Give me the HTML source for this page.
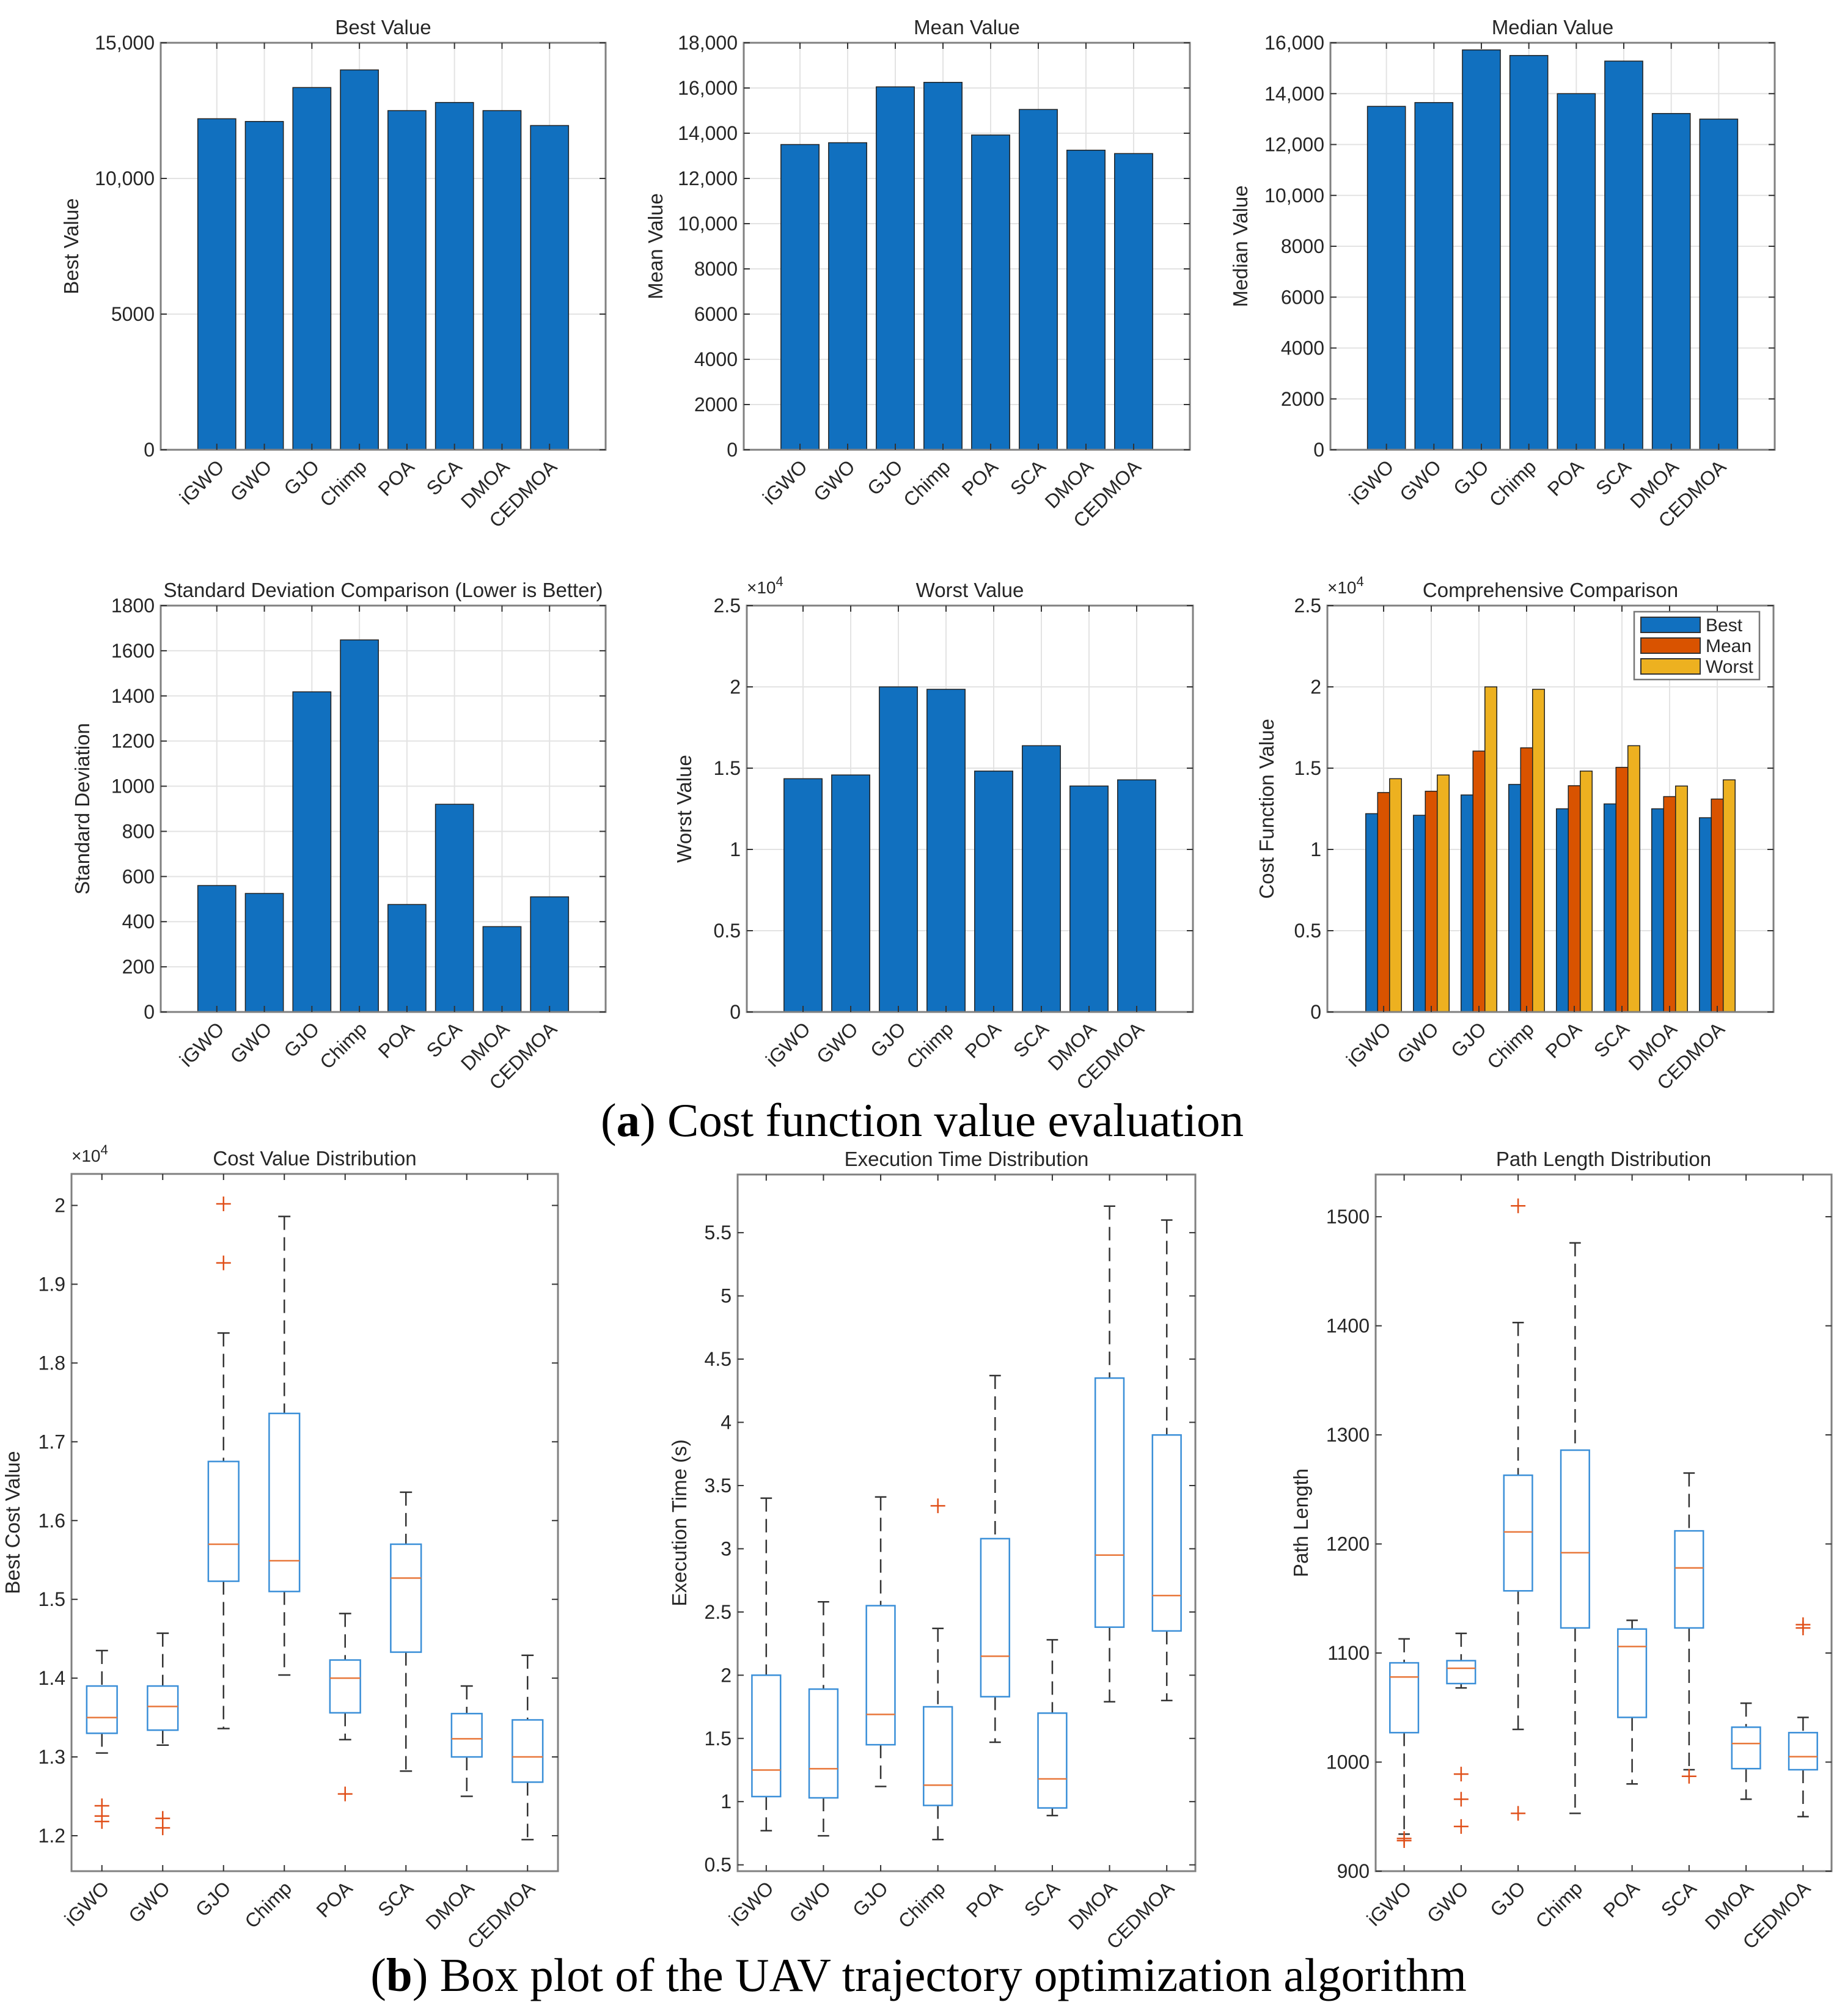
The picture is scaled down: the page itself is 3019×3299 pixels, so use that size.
<!DOCTYPE html>
<html><head><meta charset="utf-8"><style>
html,body{margin:0;padding:0;background:#fff}
svg{display:block}
text{font-family:"Liberation Sans",sans-serif;fill:#262626}
</style></head><body>
<svg id="fig" xmlns="http://www.w3.org/2000/svg" width="3019" height="3299" viewBox="0 0 3019 3299">
<text x="1509" y="1859" text-anchor="middle" style="font-family:'Liberation Serif',serif;font-size:77px;fill:#000">(<tspan font-weight="bold">a</tspan>) Cost function value evaluation</text>
<text x="1503" y="3258" text-anchor="middle" style="font-family:'Liberation Serif',serif;font-size:77px;fill:#000">(<tspan font-weight="bold">b</tspan>) Box plot of the UAV trajectory optimization algorithm</text>
</svg>
<script>
const categories = ["iGWO","GWO","GJO","Chimp","POA","SCA","DMOA","CEDMOA"];
const bestValues = [12200,12100,13350,14000,12500,12800,12500,11950];
const meanValues = [13500,13580,16050,16250,13920,15050,13250,13100];
const medianValues = [13500,13650,15720,15500,14000,15280,13220,13000];
const stdValues = [560,525,1418,1648,476,920,378,510];
const worstValues = [14350,14580,20000,19850,14820,16380,13900,14280];
const ticksBest = [0,5000,10000,15000];
const ticksMean = [0,2000,4000,6000,8000,10000,12000,14000,16000,18000];
const ticksMedian = [0,2000,4000,6000,8000,10000,12000,14000,16000];
const ticksStd = [0,200,400,600,800,1000,1200,1400,1600,1800];
const ticksE4 = [0,5000,10000,15000,20000,25000];
// box stats: [whiskerHigh, q3, median, q1, whiskerLow]
const costBox = [[1.435,1.39,1.35,1.33,1.305],[1.457,1.39,1.364,1.334,1.315],[1.838,1.675,1.57,1.523,1.336],[1.986,1.736,1.549,1.51,1.404],[1.482,1.423,1.40,1.356,1.322],[1.636,1.57,1.527,1.433,1.282],[1.39,1.355,1.323,1.30,1.25],[1.429,1.347,1.30,1.268,1.195]];
const costOutliers = [[1.238,1.225,1.218],[1.222,1.21],[2.002,1.927],[],[1.253],[],[],[]];
const timeBox = [[3.4,2.0,1.25,1.04,0.77],[2.58,1.89,1.26,1.03,0.73],[3.41,2.55,1.69,1.45,1.12],[2.37,1.75,1.13,0.97,0.70],[4.37,3.08,2.15,1.83,1.47],[2.28,1.70,1.18,0.95,0.89],[5.71,4.35,2.95,2.38,1.79],[5.60,3.90,2.63,2.35,1.80]];
const timeOutliers = [[],[],[],[3.34],[],[],[],[]];
const pathBox = [[1113,1091,1078,1027,934],[1118,1093,1086,1072,1068],[1403,1263,1211,1157,1030],[1476,1286,1192,1123,953],[1130,1122,1106,1041,980],[1265,1212,1178,1123,993],[1054,1032,1017,994,966],[1041,1027,1005,993,950]];
const pathOutliers = [[928,930],[989,966,941],[1510,953],[],[],[987],[],[1123,1126]];
const ticksCost = [1.2,1.3,1.4,1.5,1.6,1.7,1.8,1.9,2.0];
const ticksTime = [0.5,1,1.5,2,2.5,3,3.5,4,4.5,5,5.5];
const ticksPath = [900,1000,1100,1200,1300,1400,1500];

const NS="http://www.w3.org/2000/svg";
const svg=document.getElementById('fig');
function mk(tag,attrs,parent,txt){const e=document.createElementNS(NS,tag);for(const k in attrs)e.setAttribute(k,attrs[k]);if(txt!==undefined)e.textContent=txt;(parent||svg).appendChild(e);return e;}
function fmt(v){return v>=10000?v.toLocaleString('en-US'):String(v);}
const BLUE="#1170BF",ORANGE="#D95300",YELLOW="#EDB120";

function axesFrame(g,L,R,T,B,title,ylab,ylabOff,ticks,ymin,ymax,tickFmt,grid,fs,exp){
  const sy=v=>B-(v-ymin)/(ymax-ymin)*(B-T);
  const bar=grid;
  const xmin=bar?-0.18:0.5, xmax=bar?9.18:8.5;
  const sx=i=>L+((i+1)-xmin)/(xmax-xmin)*(R-L);
  if(grid){
    categories.forEach((c,i)=>{const gl=mk('line',{x1:sx(i),x2:sx(i),y1:T,y2:B,stroke:'#e3e3e3','stroke-width':2},g);});
    ticks.forEach(t=>{const gl=mk('line',{x1:L,x2:R,y1:sy(t),y2:sy(t),stroke:'#e3e3e3','stroke-width':2},g);});
  }
  return {sx,sy,xmin,xmax};
}
function axesDecor(g,L,R,T,B,title,ylab,ylabOff,ticks,sy,sx,tickFmt,fs,exp){
  const fr=mk('rect',{x:L,y:T,width:R-L,height:B-T,fill:'none',stroke:'#808080','stroke-width':3},g);
  
  ticks.forEach(t=>{
    const y=sy(t);
    mk('line',{x1:L,x2:L+10,y1:y,y2:y,stroke:'#333','stroke-width':2},g);
    mk('line',{x1:R,x2:R-10,y1:y,y2:y,stroke:'#333','stroke-width':2},g);
    const tl=mk('text',{x:L-10,y:y+11,'text-anchor':'end','font-size':fs},g,tickFmt(t));
    
  });
  categories.forEach((c,i)=>{
    const x=sx(i);
    mk('line',{x1:x,x2:x,y1:B,y2:B-10,stroke:'#333','stroke-width':2},g);
    mk('line',{x1:x,x2:x,y1:T,y2:T+10,stroke:'#333','stroke-width':2},g);
    const xl=mk('text',{x:0,y:0,'text-anchor':'end','font-size':fs,transform:`translate(${x+14},${B+30}) rotate(-45)`},g,c);
    
  });
  const tt=mk('text',{x:(L+R)/2,y:T-14,'text-anchor':'middle','font-size':fs+1},g,title);
  
  const yl=mk('text',{x:0,y:0,'text-anchor':'middle','font-size':fs+1,transform:`translate(${L+ylabOff},${(T+B)/2}) rotate(-90)`},g,ylab);
  
  if(exp){const ex=mk('text',{x:L,y:T-20,'font-size':fs-4},g,'×10');mk('tspan',{dy:-12,'font-size':fs-10},ex,'4');}
}
function barChart(name,L,R,T,B,title,ylab,ylabOff,vals,ticks,ymax,exp){
  const g=mk('g',{});  
  const a=axesFrame(g,L,R,T,B,title,ylab,ylabOff,ticks,0,ymax,null,true);
  const unit=(R-L)/(a.xmax-a.xmin);
  vals.forEach((v,i)=>{const w=0.8*unit;const r=mk('rect',{x:a.sx(i)-w/2,y:a.sy(v),width:w,height:a.sy(0)-a.sy(v),fill:BLUE,stroke:'#222','stroke-width':1.5},g);
    });
  const tf=exp?(t=>String(t/10000)):fmt;
  axesDecor(g,L,R,T,B,title,ylab,ylabOff,ticks,a.sy,a.sx,tf,32,exp);
  return {g,a,unit};
}
barChart('best-value-chart',263,991,70,736,'Best Value','Best Value',-135,bestValues,ticksBest,15000,false);
barChart('mean-value-chart',1217,1947,70,736,'Mean Value','Mean Value',-133,meanValues,ticksMean,18000,false);
barChart('median-value-chart',2177,2904,70,736,'Median Value','Median Value',-136,medianValues,ticksMedian,16000,false);
barChart('std-dev-chart',263,991,991,1656,'Standard Deviation Comparison (Lower is Better)','Standard Deviation',-117,stdValues,ticksStd,1800,false);
barChart('worst-value-chart',1222,1952,991,1656,'Worst Value','Worst Value',-91,worstValues,ticksE4,25000,true);

(function(){
  const L=2172,R=2902,T=991,B=1656;
  const g=mk('g',{});  
  const a=axesFrame(g,L,R,T,B,'','','',ticksE4,0,25000,null,true);
  const unit=(R-L)/(a.xmax-a.xmin);
  const series=[[bestValues,BLUE,'best'],[meanValues,ORANGE,'mean'],[worstValues,YELLOW,'worst']];
  const bw=unit*0.25;
  series.forEach((s,si)=>{s[0].forEach((v,i)=>{const x=a.sx(i)+(si-1)*bw-bw/2;
    const r=mk('rect',{x:x,y:a.sy(v),width:bw,height:a.sy(0)-a.sy(v),fill:s[1],stroke:'#222','stroke-width':1.5},g);
    });});
  axesDecor(g,L,R,T,B,'Comprehensive Comparison','Cost Function Value',-88,ticksE4,a.sy,a.sx,t=>String(t/10000),32,true);
  const lg=mk('g',{},g);  
  mk('rect',{x:2674,y:1001,width:205,height:111,fill:'#fff',stroke:'#777','stroke-width':2.5},lg);
  [['Best',BLUE],['Mean',ORANGE],['Worst',YELLOW]].forEach((e,k)=>{
    const cy=1022+k*34;
    const it=mk('g',{},lg);  
    mk('rect',{x:2685,y:cy-12,width:97,height:25,fill:e[1],stroke:'#333','stroke-width':2},it);
    mk('text',{x:2791,y:cy+11,'font-size':30},it,e[0]);
  });
})();

function boxChart(name,L,R,T,B,title,ylab,ylabOff,stats,outs,ticks,ymin,ymax,tf,exp){
  const g=mk('g',{});  
  const a=axesFrame(g,L,R,T,B,title,ylab,ylabOff,ticks,ymin,ymax,null,false);
  const unit=(R-L)/(a.xmax-a.xmin);
  stats.forEach((s,i)=>{
    const x=a.sx(i),hw=unit*0.25,cw=unit*0.1;
    const bg=mk('g',{},g);  
    mk('line',{x1:x,x2:x,y1:a.sy(s[0]),y2:a.sy(s[1]),stroke:'#333','stroke-width':2.5,'stroke-dasharray':'22,12'},bg);
    mk('line',{x1:x,x2:x,y1:a.sy(s[3]),y2:a.sy(s[4]),stroke:'#333','stroke-width':2.5,'stroke-dasharray':'22,12'},bg);
    mk('line',{x1:x-cw,x2:x+cw,y1:a.sy(s[0]),y2:a.sy(s[0]),stroke:'#333','stroke-width':2.5},bg);
    mk('line',{x1:x-cw,x2:x+cw,y1:a.sy(s[4]),y2:a.sy(s[4]),stroke:'#333','stroke-width':2.5},bg);
    mk('rect',{x:x-hw,y:a.sy(s[1]),width:2*hw,height:a.sy(s[3])-a.sy(s[1]),fill:'none',stroke:'#3a8fd8','stroke-width':2.5},bg);
    mk('line',{x1:x-hw,x2:x+hw,y1:a.sy(s[2]),y2:a.sy(s[2]),stroke:'#E8773A','stroke-width':2.5},bg);
    outs[i].forEach(o=>{const y=a.sy(o);
      const p=mk('path',{d:`M${x-12},${y}H${x+12}M${x},${y-12}V${y+12}`,stroke:'#E0501A','stroke-width':2.5},bg);
      });
  });
  axesDecor(g,L,R,T,B,title,ylab,ylabOff,ticks,a.sy,a.sx,tf,32,exp);
}
boxChart('cost-box-plot',117,913,1921,3062,'Cost Value Distribution','Best Cost Value',-85,costBox,costOutliers,ticksCost,1.155,2.04,t=>t.toFixed(1).replace('2.0','2'),true);
boxChart('time-box-plot',1207,1956,1922,3062,'Execution Time Distribution','Execution Time (s)',-84,timeBox,timeOutliers,ticksTime,0.45,5.96,t=>String(t),false);
boxChart('path-box-plot',2251,2997,1922,3062,'Path Length Distribution','Path Length',-111,pathBox,pathOutliers,ticksPath,900,1538.7,t=>String(t),false);
</script>
</body></html>
